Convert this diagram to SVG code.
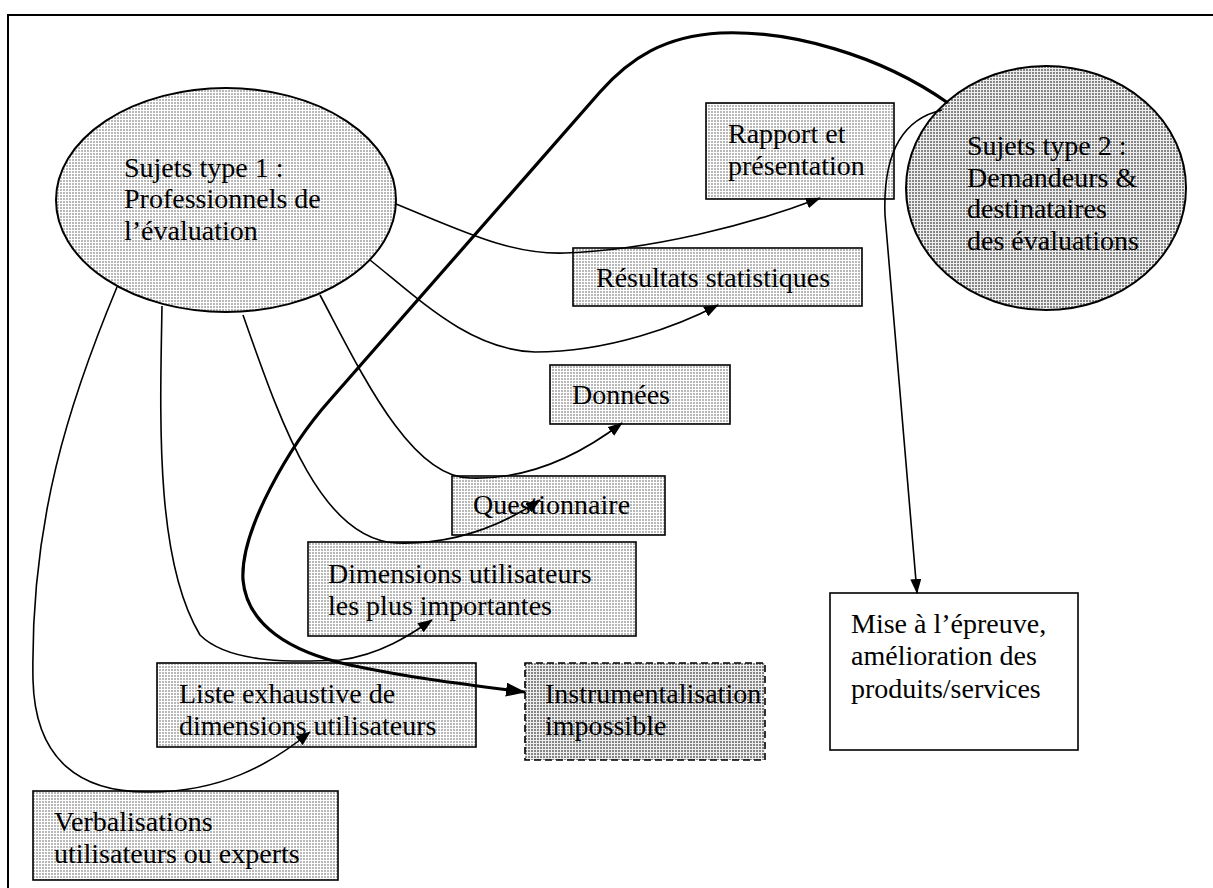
<svg xmlns="http://www.w3.org/2000/svg" width="1213" height="888" viewBox="0 0 1213 888">
<defs>
<pattern id="dotLight" patternUnits="userSpaceOnUse" width="3" height="3">
<rect width="3" height="3" fill="#ffffff"/>
<rect width="2" height="2" fill="#b8b8b8"/>
</pattern>
<pattern id="dotDark" patternUnits="userSpaceOnUse" width="3" height="3">
<rect width="3" height="3" fill="#eeeeee"/>
<rect width="2" height="2" fill="#858585"/>
</pattern>
<marker id="arr" markerUnits="userSpaceOnUse" markerWidth="15" markerHeight="11" refX="14" refY="5.5" orient="auto">
<path d="M0,0 L15,5.5 L0,11 z" fill="#000"/>
</marker>
<marker id="arrBig" markerUnits="userSpaceOnUse" markerWidth="20" markerHeight="14" refX="19" refY="7" orient="auto">
<path d="M0,0 L20,7 L0,14 z" fill="#000"/>
</marker>
</defs>
<style>
.t{font-family:"Liberation Serif","Times New Roman",serif;font-size:28px;fill:#000}
.box{fill:url(#dotLight);stroke:#000;stroke-width:1.6}
.boxw{fill:#fff;stroke:#000;stroke-width:1.6}
.boxd{fill:url(#dotDark);stroke:#000;stroke-width:1.6;stroke-dasharray:7,4}
.ell1{fill:url(#dotLight);stroke:#000;stroke-width:2}
.ell2{fill:url(#dotDark);stroke:#000;stroke-width:2}
.c{fill:none;stroke:#000;stroke-width:1.6}
.ca{fill:none;stroke:#000;stroke-width:1.6;marker-end:url(#arr)}
.cb{fill:none;stroke:#000;stroke-width:3.2;marker-end:url(#arrBig)}
.frame{fill:none;stroke:#000;stroke-width:2}
</style>
<rect width="1213" height="888" fill="#fff"/>
<path class="frame" d="M8,888 L8,15 L1213,15"/>

<g id="n_type1">
<ellipse class="ell1" cx="226" cy="200" rx="170" ry="112"/>
<text class="t" x="124" y="177">Sujets type 1 :</text>
<text class="t" x="124" y="208">Professionnels de</text>
<text class="t" x="124" y="240">l’évaluation</text>
</g>

<g id="n_type2">
<ellipse class="ell2" cx="1046" cy="188" rx="140" ry="122"/>
<text class="t" x="967" y="155">Sujets type 2 :</text>
<text class="t" x="967" y="187">Demandeurs &amp;</text>
<text class="t" x="967" y="218">destinataires</text>
<text class="t" x="967" y="250">des évaluations</text>
</g>

<g id="n_rapport">
<rect class="box" x="706" y="103" width="188" height="96"/>
<text class="t" x="728" y="143">Rapport et</text>
<text class="t" x="728" y="175">présentation</text>
</g>

<g id="n_resultats">
<rect class="box" x="573" y="248" width="289" height="58"/>
<text class="t" x="596" y="287">Résultats statistiques</text>
</g>

<g id="n_donnees">
<rect class="box" x="550" y="365" width="180" height="59"/>
<text class="t" x="572" y="404">Données</text>
</g>

<g id="n_questionnaire">
<rect class="box" x="452" y="476" width="213" height="59"/>
<text class="t" x="473" y="514">Questionnaire</text>
</g>

<g id="n_dimensions">
<rect class="box" x="308" y="542" width="328" height="94"/>
<text class="t" x="328" y="583">Dimensions utilisateurs</text>
<text class="t" x="328" y="615">les plus importantes</text>
</g>

<g id="n_liste">
<rect class="box" x="157" y="663" width="319" height="84"/>
<text class="t" x="179" y="703">Liste exhaustive de</text>
<text class="t" x="179" y="735">dimensions utilisateurs</text>
</g>

<g id="n_instrumentalisation">
<rect class="boxd" x="525" y="663" width="240" height="97"/>
<text class="t" x="545" y="703">Instrumentalisation</text>
<text class="t" x="545" y="735">impossible</text>
</g>

<g id="n_verbalisations">
<rect class="box" x="33" y="791" width="305" height="89"/>
<text class="t" x="54" y="831">Verbalisations</text>
<text class="t" x="54" y="863">utilisateurs ou experts</text>
</g>

<g id="n_mise">
<rect class="boxw" x="830" y="593" width="248" height="157"/>
<text class="t" x="851" y="633">Mise à l’épreuve,</text>
<text class="t" x="851" y="665">amélioration des</text>
<text class="t" x="851" y="698">produits/services</text>
</g>

<g id="connectors">
<path class="ca" d="M396,204 C460,230 510,255 565,253 C650,250 750,225 820,198"/>
<path class="ca" d="M370,260 C420,300 470,350 535,352 C610,352 680,325 718,305"/>
<path class="ca" d="M320,295 C360,370 410,478 470,478 C530,480 580,455 622,423"/>
<path class="ca" d="M243,315 C280,420 320,540 397,543 C460,545 510,520 540,500"/>
<path class="ca" d="M162,306 C160,420 155,560 200,635 C230,665 300,662 340,660 C380,655 410,635 432,620"/>
<path class="ca" d="M117,287 C70,400 30,520 33,680 C35,760 80,793 150,792 C220,792 270,765 310,732"/>
<path class="ca" d="M942,110 C898,120 883,160 885,215 L917,593"/>
<path class="cb" d="M948,103 C880,55 790,30 720,33 C665,36 630,58 600,92 L330,400 C290,445 240,530 243,580 C247,625 290,652 350,665 C410,678 470,685 525,692"/>
</g>
</svg>
